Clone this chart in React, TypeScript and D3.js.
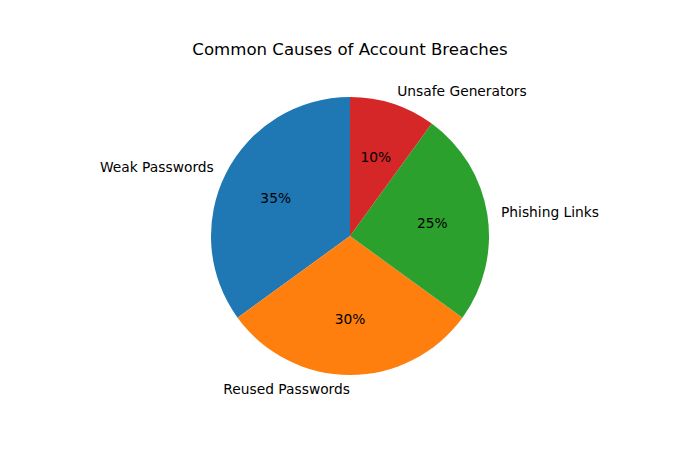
import React from "react";
import * as d3 from "d3";

const categories = ["Weak Passwords", "Reused Passwords", "Phishing Links", "Unsafe Generators"];
const values = [35, 30, 25, 10];
const colors = ["#1f77b4", "#ff7f0e", "#2ca02c", "#d62728"];
const title = "Common Causes of Account Breaches";

export default function App() {
  const W = 700, H = 450;
  const cx = 350, cy = 236, r = 139;
  const pie = d3.pie<number>().sort(null).startAngle(0).endAngle(-2 * Math.PI);
  const arcs = pie(values);
  const arc = d3.arc<d3.PieArcDatum<number>>().innerRadius(0).outerRadius(r);
  const total = d3.sum(values);
  const font = "DejaVu Sans, sans-serif";
  return (
    <svg width={W} height={H} style={{ position: "absolute", left: 0, top: 0, background: "#fff" }}>
      <text x={cx} y={49} textAnchor="middle" dominantBaseline="central" fontFamily={font} fontSize={16.6}>
        {title}
      </text>
      <g transform={`translate(${cx},${cy})`}>
        {arcs.map((a, i) => (
          <path key={i} d={arc(a) || ""} fill={colors[i]} />
        ))}
        {arcs.map((a, i) => {
          const mid = (a.startAngle + a.endAngle) / 2;
          const lx = 1.1 * r * Math.sin(mid);
          const ly = -1.1 * r * Math.cos(mid);
          const px = 0.6 * r * Math.sin(mid);
          const py = -0.6 * r * Math.cos(mid);
          return (
            <g key={i}>
              <text x={lx} y={ly} textAnchor={lx < 0 ? "end" : "start"} dominantBaseline="central" fontFamily={font} fontSize={13.8}>
                {categories[i]}
              </text>
              <text x={px} y={py} textAnchor="middle" dominantBaseline="central" fontFamily={font} fontSize={13.8}>
                {`${((values[i] / total) * 100).toFixed(0)}%`}
              </text>
            </g>
          );
        })}
      </g>
    </svg>
  );
}
